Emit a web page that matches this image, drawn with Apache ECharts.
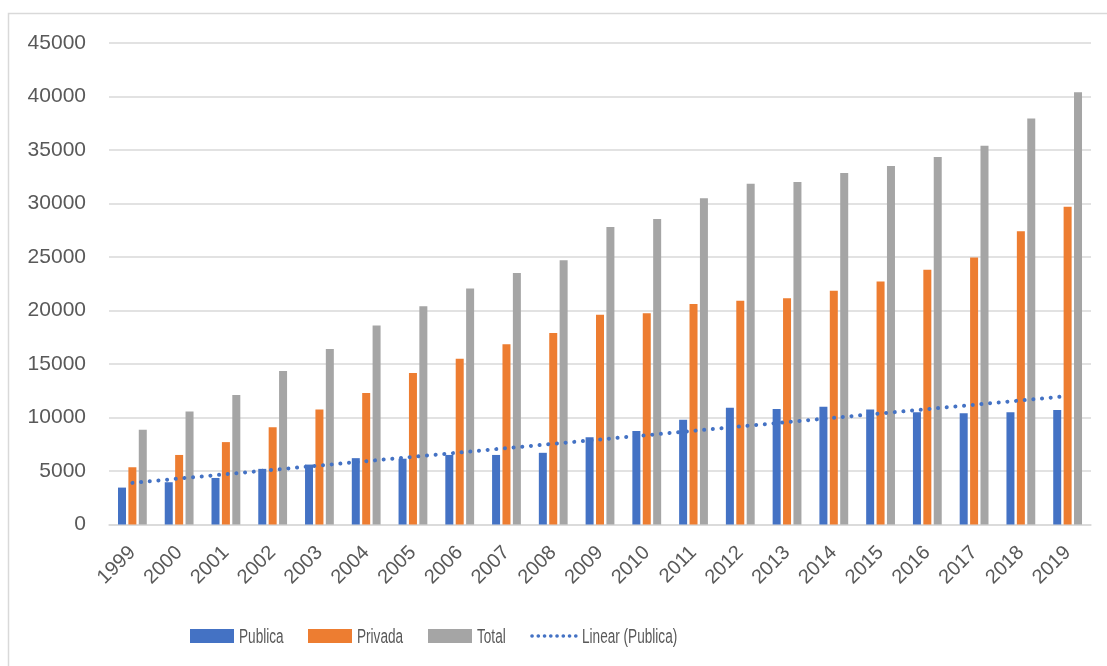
<!DOCTYPE html>
<html>
<head>
<meta charset="utf-8">
<script src="https://cdn.jsdelivr.net/npm/echarts@6/dist/echarts.min.js"></script>
<style>
  html, body { margin: 0; padding: 0; background: #ffffff; }
  #chart { width: 1107px; height: 666px; }
</style>
</head>
<body>
<div id="chart"></div>
<script>
// Years on the category axis
const years = ['1999','2000','2001','2002','2003','2004','2005','2006','2007','2008',
               '2009','2010','2011','2012','2013','2014','2015','2016','2017','2018','2019'];

// Yearly values per sector
const publica = [3450, 3950, 4350, 5200, 5600, 6200, 6150, 6500, 6500, 6700,
                 8150, 8750, 9800, 10900, 10800, 11000, 10750, 10500, 10400, 10500, 10700];
const privada = [5350, 6500, 7700, 9100, 10750, 12300, 14150, 15500, 16850, 17900,
                 19600, 19750, 20600, 20900, 21150, 21850, 22700, 23800, 24950, 27400, 29700];
const total   = [8850, 10550, 12100, 14350, 16400, 18600, 20400, 22050, 23500, 24700,
                 27800, 28550, 30500, 31850, 32000, 32850, 33500, 34350, 35400, 37950, 40400];

// Series names shown in the legend
const seriesNames = ['Publica', 'Privada', 'Total', 'Linear (Publica)'];

// Value axis ticks
const yTicks = { min: 0, max: 45000, step: 5000 };

// Least-squares linear trend of the public series over the category index
function linearTrend(values) {
  const n = values.length;
  let sx = 0, sy = 0, sxx = 0, sxy = 0;
  values.forEach((v, i) => { sx += i; sy += v; sxx += i * i; sxy += i * v; });
  const slope = (n * sxy - sx * sy) / (n * sxx - sx * sx);
  const intercept = (sy - slope * sx) / n;
  return values.map((_, i) => intercept + slope * i);
}
const publicaTrend = linearTrend(publica);

const colors = { publica: '#4472C4', privada: '#ED7D31', total: '#A5A5A5' };
const textColor = '#595959';
const gridColor = '#D9D9D9';
const axisFont = "'Liberation Sans', Arial, sans-serif";

// Legend drawn as graphic elements: swatch + condensed label per entry
const legendY = 636;
const legendEntries = [
  { name: seriesNames[0], kind: 'rect', color: colors.publica, swatchX: 190, textX: 239 },
  { name: seriesNames[1], kind: 'rect', color: colors.privada, swatchX: 308, textX: 357 },
  { name: seriesNames[2], kind: 'rect', color: colors.total,   swatchX: 428, textX: 477 },
  { name: seriesNames[3], kind: 'dots', color: colors.publica, swatchX: 532, textX: 582 }
];
const legendGraphics = [];
legendEntries.forEach(e => {
  if (e.kind === 'rect') {
    legendGraphics.push({
      type: 'rect', silent: true,
      shape: { x: e.swatchX, y: legendY - 7, width: 44, height: 14 },
      style: { fill: e.color }
    });
  } else {
    legendGraphics.push({
      type: 'line', silent: true,
      shape: { x1: e.swatchX, y1: legendY, x2: e.swatchX + 44, y2: legendY },
      style: { stroke: e.color, lineWidth: 3.6, lineDash: [0.1, 6.15], lineCap: 'round' }
    });
  }
  legendGraphics.push({
    type: 'text', silent: true,
    x: e.textX, y: legendY + 1, scaleX: 0.68,
    style: {
      text: e.name, x: 0, y: 0,
      fill: textColor,
      font: "20px 'Liberation Sans', Arial, sans-serif",
      textVerticalAlign: 'middle', verticalAlign: 'middle'
    }
  });
});

const chart = echarts.init(document.getElementById('chart'), null, { renderer: 'canvas' });

chart.setOption({
  animation: false,
  backgroundColor: '#ffffff',
  graphic: [{
    type: 'rect',
    shape: { x: 8.5, y: 13.5, width: 1200, height: 700 },
    style: { fill: 'none', stroke: gridColor, lineWidth: 1.5 },
    silent: true,
    z: -10
  }].concat(legendGraphics),
  grid: { left: 109, right: 16, top: 43, bottom: 141.5, containLabel: false },
  xAxis: {
    type: 'category',
    data: years,
    axisLine: { lineStyle: { color: gridColor, width: 1.5 } },
    axisTick: { show: false },
    axisLabel: {
      rotate: 45,
      margin: 25,
      interval: 0,
      color: textColor,
      fontSize: 20,
      fontFamily: axisFont
    }
  },
  yAxis: {
    type: 'value',
    min: yTicks.min,
    max: yTicks.max,
    interval: yTicks.step,
    axisLine: { show: false },
    axisTick: { show: false },
    splitLine: { lineStyle: { color: gridColor, width: 1.5 } },
    axisLabel: {
      margin: 23,
      color: textColor,
      fontSize: 21,
      fontFamily: axisFont,
      formatter: v => String(v)
    }
  },
  series: [
    {
      name: seriesNames[0], type: 'bar', data: publica,
      barWidth: 8, barGap: '30%',
      itemStyle: { color: colors.publica }
    },
    {
      name: seriesNames[1], type: 'bar', data: privada,
      barWidth: 8, barGap: '30%',
      itemStyle: { color: colors.privada }
    },
    {
      name: seriesNames[2], type: 'bar', data: total,
      barWidth: 8, barGap: '30%',
      itemStyle: { color: colors.total }
    },
    {
      name: seriesNames[3], type: 'line', data: publicaTrend,
      symbol: 'none', showSymbol: false, z: 5,
      lineStyle: { color: colors.publica, width: 4, type: [0.1, 8.6], cap: 'round' }
    }
  ]
});
</script>
</body>
</html>
